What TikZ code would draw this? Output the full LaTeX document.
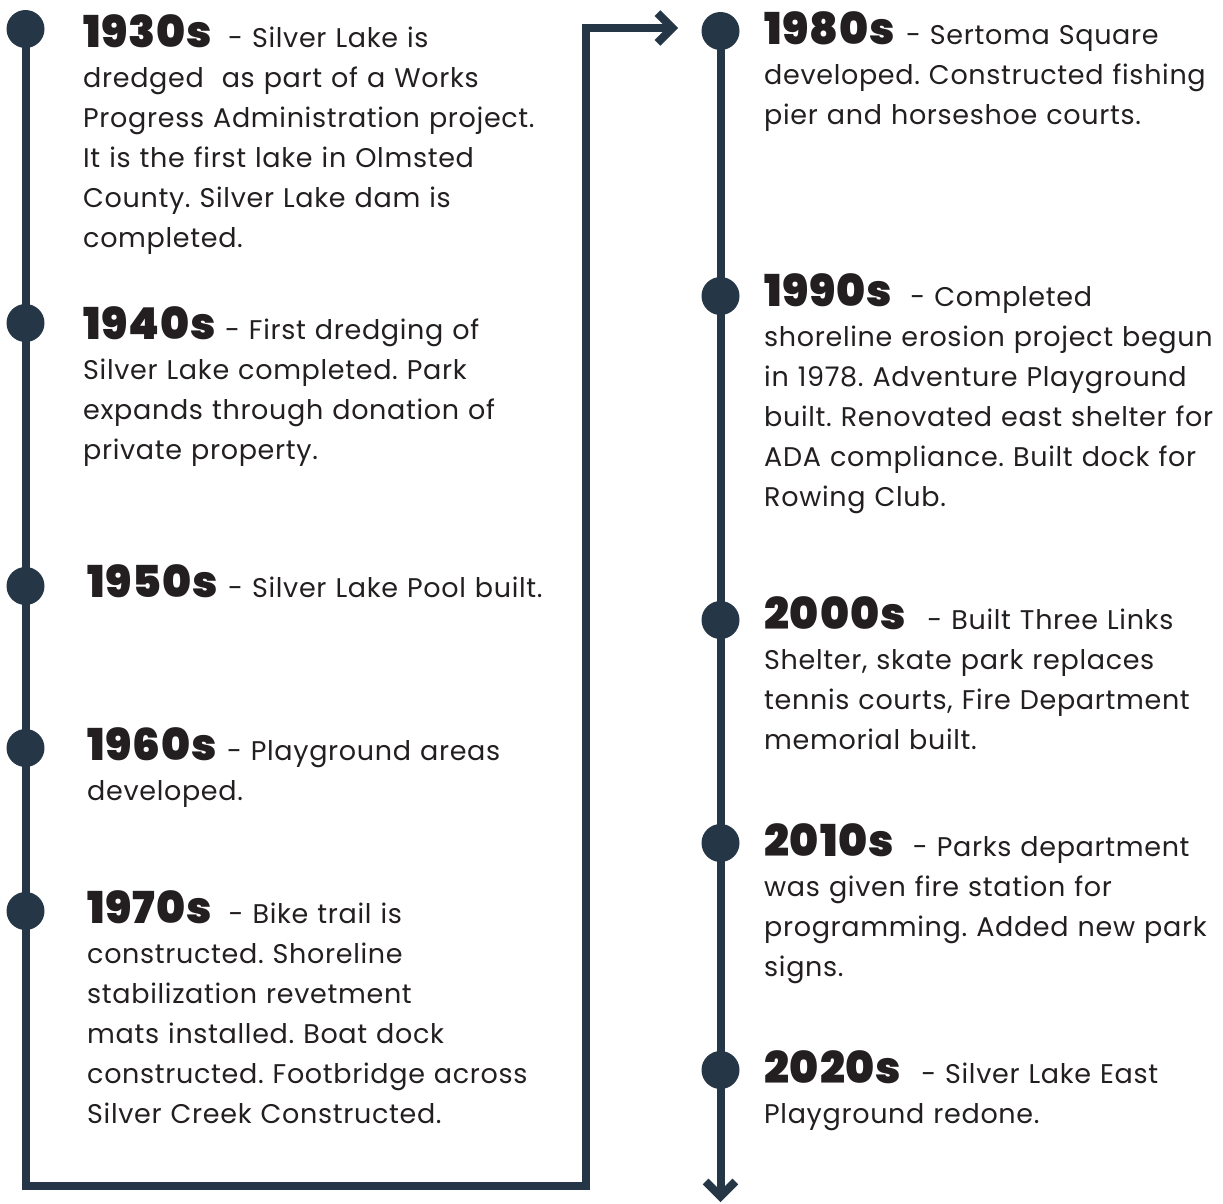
\documentclass[tikz,border=0pt]{standalone}
\usepackage{fontspec}
\setmainfont{Poppins}[LetterSpace=2.5]
\newfontfamily\yearfont{Poppins Black}[LetterSpace=2]
\usetikzlibrary{arrows.meta}

\definecolor{navy}{HTML}{253647}
\definecolor{ink}{HTML}{231F20}

\newcommand{\decade}[1]{{\yearfont\fontsize{44}{40}\selectfont #1}}

\tikzset{
  dot/.style={circle, fill=navy, minimum size=38pt, inner sep=0pt},
  tline/.style={draw=navy, line width=8pt},
  tip/.style={-{Straight Barb[angle=90:21pt, sharp]}},
  entry/.style={anchor=base west, align=left, text width=470pt, inner sep=0pt,
    text=ink, font=\fontsize{27}{40}\selectfont\frenchspacing},
}

\begin{document}
\begin{tikzpicture}[x=1pt, y=-1pt]
    \useasboundingbox (0,0) rectangle (1223,1203);

    % Puntos de la linea izquierda
    \node[dot] (d1930) at (25.5,29) {};
    \node[dot] (d1940) at (25.5,323) {};
    \node[dot] (d1950) at (25.5,586) {};
    \node[dot] (d1960) at (25.5,748) {};
    \node[dot] (d1970) at (25.5,911) {};

    % Puntos de la linea derecha
    \node[dot] (d1980) at (720.5,31) {};
    \node[dot] (d1990) at (720.5,296) {};
    \node[dot] (d2000) at (720.5,620) {};
    \node[dot] (d2010) at (720.5,843) {};
    \node[dot] (d2020) at (720.5,1070) {};

    % Esquinas del recorrido
    \coordinate (lbot) at (25.5,1186);
    \coordinate (rbot) at (585.5,1186);
    \coordinate (rtop) at (585.5,28);
    \coordinate (jump) at (678,28);
    \coordinate (fin) at (720.5,1202);

    % Lineas de tiempo
    \draw[tline,tip] (d1930.center) -- (d1970.center) -- (lbot) -- (rbot)
        -- (rtop) -- (jump);
    \draw[tline,tip] (d1980.center) -- (fin);

    % Textos izquierda
    \node[entry] (t1930) at (83,47) {\decade{1930s}\hspace{16pt}- Silver Lake is\\
        dredged\ \ as part of a Works\\
        Progress Administration project.\\
        It is the first lake in Olmsted\\
        County. Silver Lake dam is\\
        completed.};
    \node[entry] (t1940) at (83,339) {\decade{1940s}\hspace{9pt}- First dredging of\\
        Silver Lake completed. Park\\
        expands through donation of\\
        private property.};
    \node[entry] (t1950) at (87,597) {\decade{1950s}\hspace{10pt}- Silver Lake Pool built.};
    \node[entry] (t1960) at (87,760) {\decade{1960s}\hspace{10pt}- Playground areas\\
        developed.};
    \node[entry] (t1970) at (87,923) {\decade{1970s}\hspace{17pt}- Bike trail is\\
        constructed. Shoreline\\
        stabilization revetment\\
        mats installed. Boat dock\\
        constructed. Footbridge across\\
        Silver Creek Constructed.};

    % Textos derecha
    \node[entry] (t1980) at (764,44) {\decade{1980s}\hspace{11pt}- Sertoma Square\\
        developed. Constructed fishing\\
        pier and horseshoe courts.};
    \node[entry] (t1990) at (764,306) {\decade{1990s}\hspace{18pt}- Completed\\
        shoreline erosion project begun\\
        in 1978. Adventure Playground\\
        built. Renovated east shelter for\\
        ADA compliance. Built dock for\\
        Rowing Club.};
    \node[entry] (t2000) at (764,629) {\decade{2000s}\hspace{22pt}- Built Three Links\\
        Shelter, skate park replaces\\
        tennis courts, Fire Department\\
        memorial built.};
    \node[entry] (t2010) at (764,856) {\decade{2010s}\hspace{19pt}- Parks department\\
        was given fire station for\\
        programming. Added new park\\
        signs.};
    \node[entry] (t2020) at (764,1083) {\decade{2020s}\hspace{20pt}- Silver Lake East\\
        Playground redone.};
\end{tikzpicture}
\end{document}
